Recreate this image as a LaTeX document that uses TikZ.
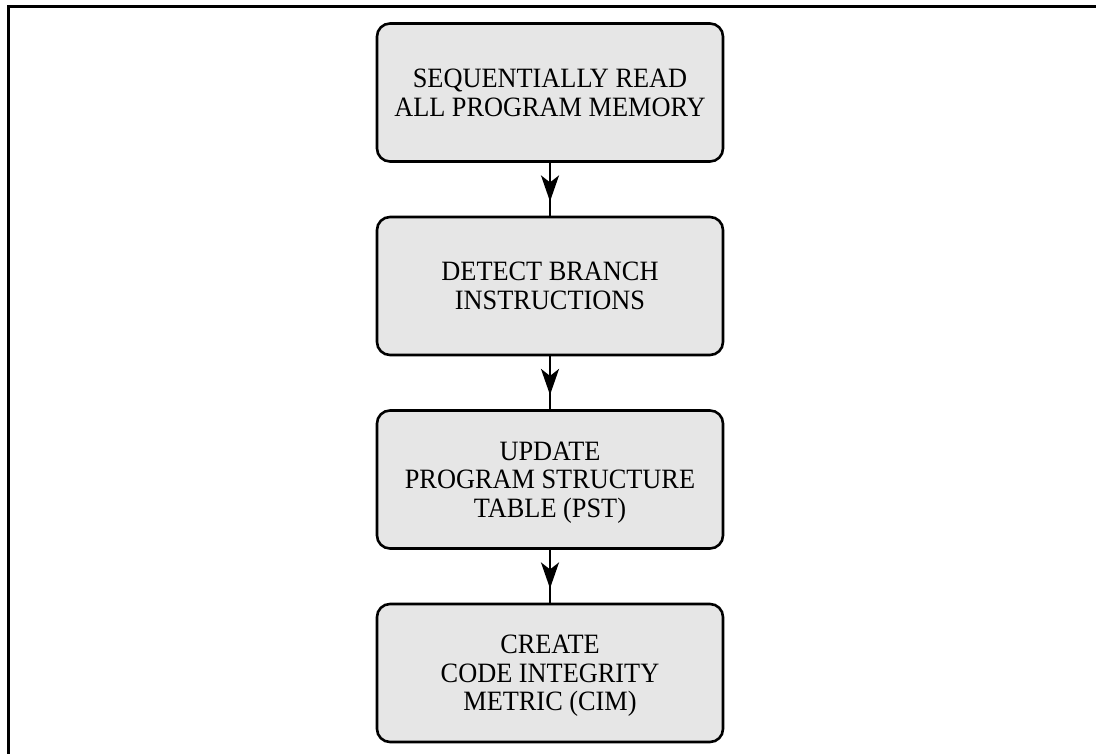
\documentclass[tikz,border=0pt]{standalone}
\usepackage{fontspec}
\setmainfont{Liberation Serif}[FakeStretch=0.94]
\usetikzlibrary{arrows.meta,decorations.markings}
\definecolor{boxfill}{RGB}{230,230,230}
\tikzset{
  stepbox/.style={draw=black, line width=2.6pt, fill=boxfill, rounded corners=13pt,
    minimum width=346pt, minimum height=138pt, inner sep=0pt, align=center,
    text depth=0pt, font=\fontsize{28}{28.7}\selectfont},
  flow/.style={draw=black, line width=2.2pt,
    decoration={markings, mark=at position 0.73 with {\arrow{Stealth[length=26pt,width=18pt,inset=7pt]}}},
    postaction={decorate}}
}
\begin{document}
\begin{tikzpicture}[x=1pt,y=-1pt]
  \useasboundingbox (0,0) rectangle (1096,754);
  % outer frame (only top and left edges fall inside the page)
  \draw[line width=3pt] (8.5,754) -- (8.5,7) -- (1096,7);
  \node[stepbox] (read)   at (550,92.5) {SEQUENTIALLY READ\\ALL PROGRAM MEMORY};
  \node[stepbox] (detect) at (550,286)  {DETECT BRANCH\\INSTRUCTIONS};
  \node[stepbox] (update) at (550,479.5){UPDATE\\PROGRAM STRUCTURE\\TABLE (PST)};
  \node[stepbox] (create) at (550,673)  {CREATE\\CODE INTEGRITY\\METRIC (CIM)};
  \draw[flow] (read.south) -- (detect.north);
  \draw[flow] (detect.south) -- (update.north);
  \draw[flow] (update.south) -- (create.north);
\end{tikzpicture}
\end{document}
